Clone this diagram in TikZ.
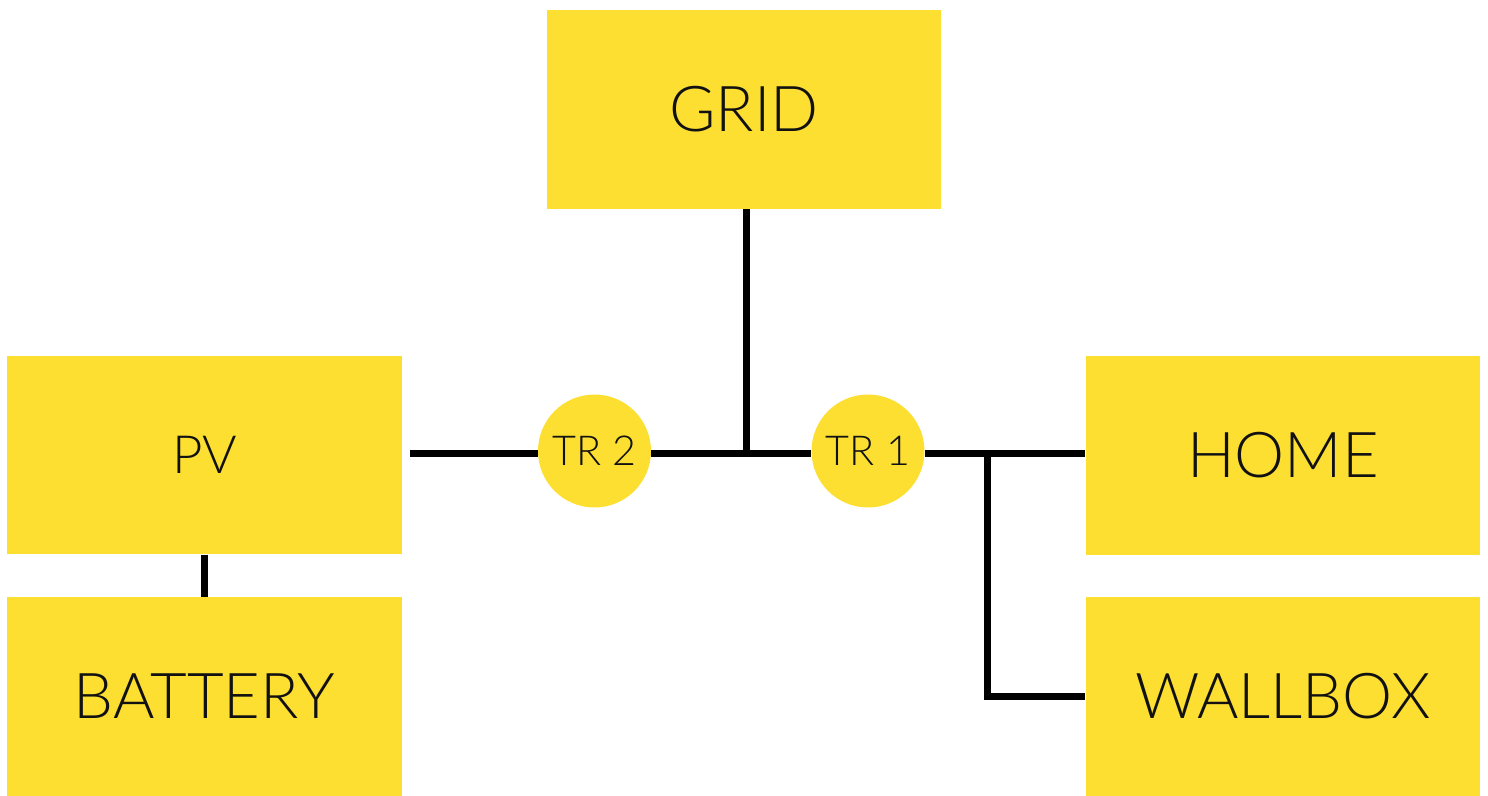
\documentclass[tikz,border=0pt]{standalone}
\usepackage{fontspec}
\setmainfont{Lato Light}
\definecolor{boxyellow}{RGB}{253,223,50}
\definecolor{txt}{RGB}{17,17,17}
\begin{document}
\begin{tikzpicture}[x=0.02cm,y=-0.02cm,
  bigbox/.style={rectangle,fill=boxyellow,inner sep=0pt,minimum width=7.9cm,minimum height=3.97cm,text=txt,font=\fontsize{36}{40}\selectfont},
  trcirc/.style={circle,fill=boxyellow,inner sep=0pt,minimum size=2.26cm,text=txt,font=\fontsize{23.5}{28}\selectfont},
  wire/.style={line width=0.14cm,black,line join=miter}]
\useasboundingbox (0,0) rectangle (1488,795);
\node[bigbox] (grid) at (744,109.5) {GRID};
\node[bigbox,font=\fontsize{30}{34}\selectfont] (pv) at (204.5,455) {PV};
\node[bigbox] (battery) at (204.5,696.5) {BATTERY};
\node[bigbox] (home) at (1283,455.5) {HOME};
\node[bigbox] (wallbox) at (1283,696.5) {WALLBOX};
\node[trcirc] (tr2) at (594.5,451) {TR 2};
\node[trcirc] (tr1) at (868,451) {TR 1};
\coordinate (pvend) at (410,453);
\coordinate (g) at (746.5,209);
\coordinate (j) at (987,453);
\draw[wire] (pvend) -- (pvend -| tr2.west);
\draw[wire] (tr2.east |- pvend) -- (tr1.west |- pvend);
\draw[wire] (g) -- (g |- pvend);
\draw[wire] (tr1.east |- pvend) -- (home.west |- pvend);
\draw[wire] (j) |- (wallbox.west);
\draw[wire] (pv.south) -- (battery.north);
\end{tikzpicture}
\end{document}
